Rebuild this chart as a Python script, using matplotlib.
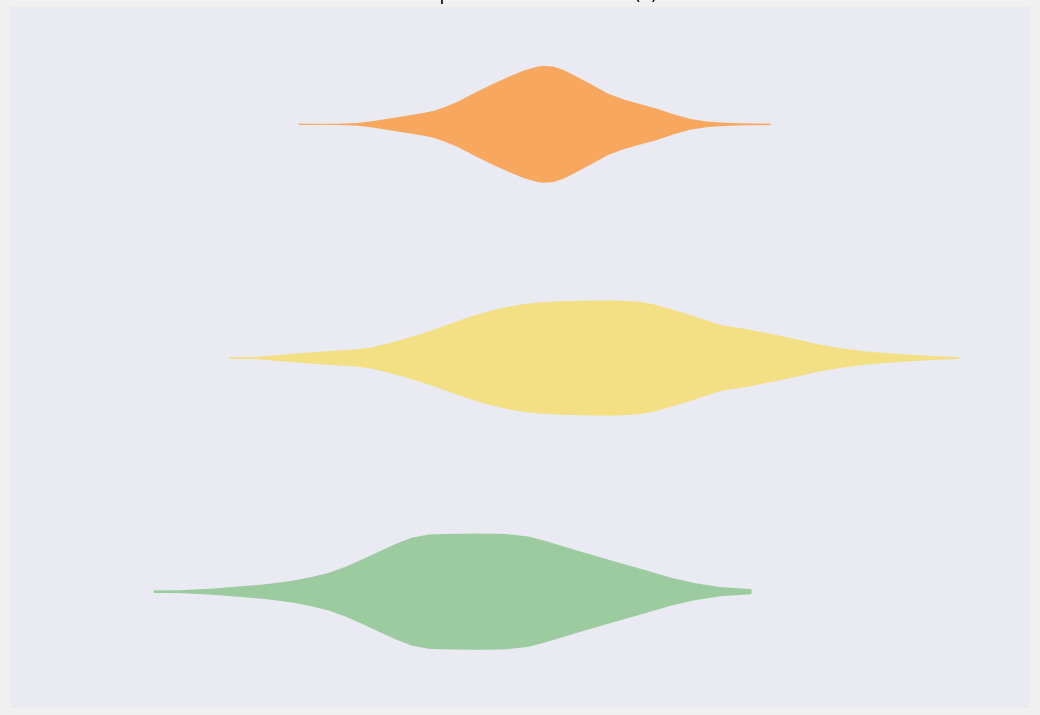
import matplotlib
matplotlib.use("Agg")
import matplotlib.pyplot as plt
import numpy as np

# %% Data (value, relative density profile)

groups = ["A", "B", "C"]
colors = ["#f8a75f", "#f3e084", "#9bcb9f"]

# group A (top, orange)
a_x = [28.8, 31.3, 33.0, 34.7, 36.3, 38.0, 39.7, 41.3, 42.3, 43.3, 44.7, 46.3,
       48.0, 49.7, 51.3, 52.7, 53.3, 54.3, 55.3, 56.3, 58.0, 59.7, 61.3, 63.0,
       64.7, 66.3, 68.0, 69.7, 71.3, 73.0, 76.0]
a_d = [0.012, 0.008, 0.012, 0.023, 0.057, 0.103, 0.149, 0.195, 0.23, 0.288,
       0.385, 0.529, 0.672, 0.805, 0.919, 0.988, 1.0, 0.988, 0.931, 0.845,
       0.69, 0.529, 0.426, 0.345, 0.264, 0.172, 0.091, 0.047, 0.029, 0.017,
       0.012]

# group B (middle, yellow)
b_x = [21.93, 24.33, 27.67, 31.0, 34.33, 36.0, 37.67, 39.33, 41.0, 42.67,
       44.33, 46.0, 47.67, 49.33, 51.0, 52.67, 54.33, 57.67, 60.33, 62.67,
       64.33, 67.67, 71.0, 73.6, 76.0, 78.4, 80.8, 83.2, 85.6, 88.0, 91.5, 94.9]
b_d = [0.014, 0.017, 0.064, 0.109, 0.143, 0.178, 0.247, 0.322, 0.409, 0.505,
       0.609, 0.707, 0.793, 0.862, 0.914, 0.948, 0.966, 0.983, 0.988, 0.966,
       0.919, 0.753, 0.564, 0.495, 0.414, 0.328, 0.233, 0.164, 0.112, 0.078,
       0.04, 0.014]

# group C (bottom, green)
c_x = [14.33, 16.83, 20.17, 23.5, 25.17, 26.83, 28.5, 30.17, 31.83, 33.5,
       35.17, 36.83, 38.5, 40.17, 41.83, 43.5, 46.83, 49.5, 51.83, 53.5, 56.83,
       60.17, 63.5, 66.0, 68.4, 71.0, 74.1]
c_d = [0.022, 0.024, 0.052, 0.098, 0.121, 0.155, 0.195, 0.253, 0.322, 0.426,
       0.552, 0.684, 0.816, 0.926, 0.978, 0.988, 0.995, 0.988, 0.943, 0.867,
       0.695, 0.529, 0.367, 0.241, 0.147, 0.078, 0.043]

profiles = [(a_x, a_d), (b_x, b_d), (c_x, c_d)]

title = "Violin plot of reaction time (s)"

# %% Plot

fig = plt.figure(figsize=(10.4, 7.15), dpi=100, facecolor="#f0f0f0")
ax = fig.add_axes([10 / 1040, 7 / 715, 1020 / 1040, 701 / 715])
ax.set_facecolor("#eaeaf2")

half_width = 0.25
for i, ((xs, ds), col) in enumerate(zip(profiles, colors)):
    xs = np.array(xs)
    hw = np.array(ds) * half_width
    ax.fill_between(xs, i - hw, i + hw, color=col, linewidth=0)

ax.set_xlim(0, 102)
ax.set_ylim(2.5, -0.5)
ax.set_xticks([])
ax.set_yticks([])
for s in ax.spines.values():
    s.set_visible(False)

ax.set_title(title, fontsize=13.3, pad=5)

fig.savefig("out.png", dpi=100, facecolor=fig.get_facecolor())
